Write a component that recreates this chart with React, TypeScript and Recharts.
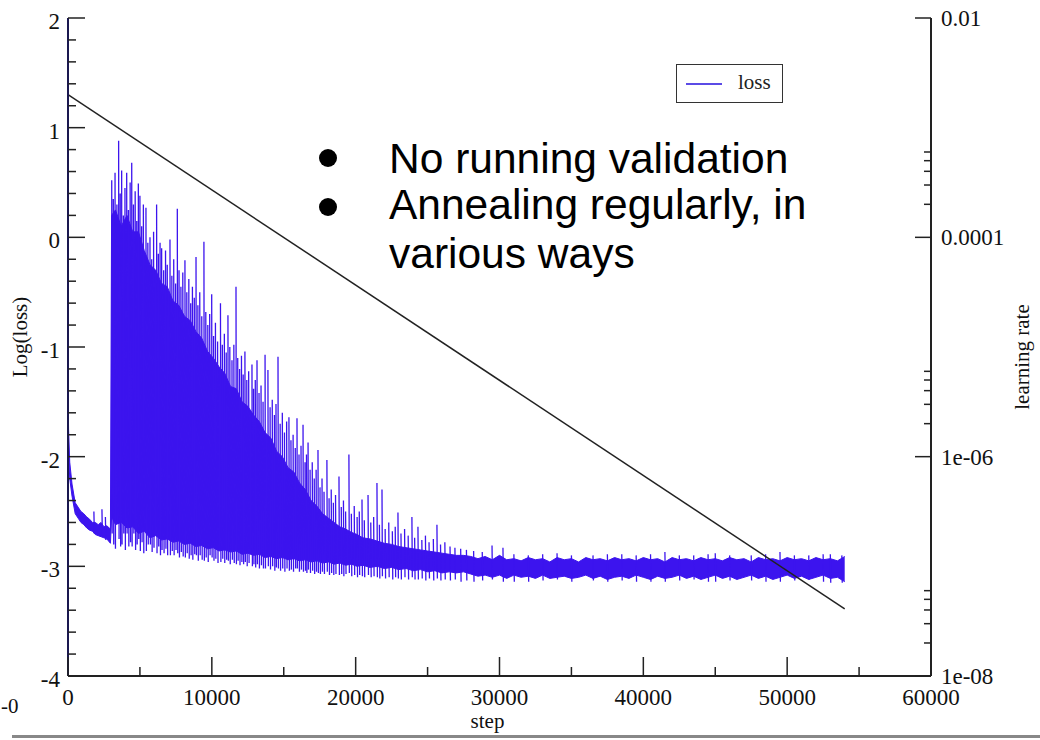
import { ComposedChart, Line, Area, XAxis, YAxis, Label } from 'recharts';

// solid body of the loss trace: step, lower edge, upper edge (log loss)
const bandSteps = [
  0, 40, 120, 280, 500, 700, 900, 1100, 1300, 1500, 1700, 1900, 2100, 2300, 2500, 2700, 2950,
  3030, 3300, 3700, 4100, 4500, 4900, 5300, 5700, 6100, 6500, 6900, 7300, 7700, 8100, 8500, 8900,
  9300, 9700, 10100, 10500, 10900, 11300, 11700, 12100, 12500, 12900, 13300, 13700, 14100, 14500,
  14900, 15300, 15700, 16100, 16500, 16900, 17300, 17700, 18100, 18500, 18900, 19300, 19700, 20100,
  20500, 21000, 21500, 22000, 22500, 23000, 23500, 24000, 24500, 25000, 25500, 26000, 26500, 27000,
  27500, 28000, 28500, 29000, 29500, 30000, 30500, 31000, 31500, 32000, 32500, 33000, 33500, 34000,
  34500, 35000, 35500, 36000, 36500, 37000, 37500, 38000, 38500, 39000, 39500, 40000, 40500, 41000,
  41500, 42000, 42500, 43000, 43500, 44000, 44500, 45000, 45500, 46000, 46500, 47000, 47500, 48000,
  48500, 49000, 49500, 50000, 50500, 51000, 51500, 52000, 52500, 53000, 53500, 54000,
];
const bandLow = [
  -1.5, -1.95, -2.2, -2.36, -2.52, -2.56, -2.6, -2.62, -2.65, -2.67, -2.68, -2.71, -2.72, -2.73, -2.74, -2.75, -2.79,
  -2.55, -2.62, -2.6, -2.65, -2.64, -2.7, -2.68, -2.74, -2.72, -2.76, -2.75, -2.78, -2.77, -2.8, -2.79, -2.82,
  -2.81, -2.84, -2.83, -2.86, -2.85, -2.87, -2.86, -2.89, -2.88, -2.9, -2.89, -2.92, -2.91, -2.93,
  -2.92, -2.94, -2.93, -2.95, -2.94, -2.96, -2.95, -2.97, -2.96, -2.98, -2.97, -2.99, -2.98, -3.0,
  -2.99, -3.01, -3.0, -3.02, -3.01, -3.03, -3.02, -3.04, -3.03, -3.05, -3.04, -3.06, -3.05, -3.06,
  -3.05, -3.07, -3.09, -3.08, -3.1, -3.08, -3.11, -3.08, -3.1, -3.09, -3.11, -3.08, -3.11, -3.1,
  -3.09, -3.11, -3.1, -3.08, -3.11, -3.09, -3.12, -3.1, -3.09, -3.11, -3.08, -3.1, -3.12, -3.09,
  -3.11, -3.1, -3.08, -3.11, -3.09, -3.12, -3.1, -3.08, -3.11, -3.09, -3.12, -3.1, -3.08, -3.11,
  -3.09, -3.12, -3.1, -3.08, -3.11, -3.09, -3.12, -3.1, -3.08, -3.11, -3.1, -3.14,
];
const bandHigh = [
  -1.3, -1.75, -2.05, -2.25, -2.42, -2.46, -2.5, -2.52, -2.55, -2.57, -2.6, -2.6, -2.62, -2.6, -2.64, -2.63, -2.66,
  0.2, 0.25, 0.1, 0.2, 0.05, 0.05, -0.12, -0.25, -0.3, -0.42, -0.45, -0.58, -0.62, -0.72, -0.76, -0.86,
  -0.92, -1.04, -1.1, -1.18, -1.24, -1.36, -1.38, -1.5, -1.54, -1.62, -1.68, -1.78, -1.83, -1.95,
  -2.0, -2.1, -2.14, -2.24, -2.3, -2.4, -2.45, -2.52, -2.56, -2.6, -2.64, -2.66, -2.69, -2.71,
  -2.74, -2.75, -2.77, -2.79, -2.8, -2.82, -2.83, -2.84, -2.85, -2.86, -2.87, -2.88, -2.89, -2.9,
  -2.9, -2.91, -2.93, -2.91, -2.94, -2.9, -2.94, -2.93, -2.95, -2.92, -2.94, -2.93, -2.96, -2.92,
  -2.94, -2.93, -2.96, -2.92, -2.94, -2.93, -2.95, -2.92, -2.94, -2.93, -2.95, -2.92, -2.94, -2.93,
  -2.96, -2.92, -2.94, -2.93, -2.95, -2.92, -2.94, -2.93, -2.95, -2.92, -2.94, -2.93, -2.96, -2.92,
  -2.94, -2.93, -2.95, -2.92, -2.94, -2.93, -2.95, -2.92, -2.94, -2.93, -2.95, -2.91,
];

// individual spikes of the loss trace: step, tip, dip
const spikeSteps = [
  1800, 2360, 2600,
  3040, 3150, 3270, 3400, 3520, 3630, 3730, 3850, 3960, 4080, 4200, 4320, 4430, 4550, 4670, 4780, 4890,
  5000, 5120, 5240, 5420, 5550, 5700, 5820, 5950, 6160, 6280, 6400, 6510, 6650, 6780, 6900, 7090, 7220,
  7350, 7480, 7600, 7720, 7850, 7980, 8130, 8260, 8400, 8530, 8650, 8780, 8900, 9030, 9160, 9300, 9450,
  9580, 9720, 9850, 9990, 10120, 10250, 10400, 10600, 10730, 10870, 11000, 11120, 11250, 11400, 11530,
  11680, 11800, 11930, 12060, 12180, 12300, 12430, 12560, 12790, 12900, 13020, 13140, 13280, 13420,
  13560, 13700, 13900, 14050, 14200, 14350, 14460, 14600, 14750, 14900, 15050, 15200, 15360, 15500,
  15650, 15800, 15920, 16060, 16200, 16340, 16480, 16580, 16690, 16830, 16980, 17120, 17250, 17380,
  17520, 17660, 17800, 18000, 18150, 18300, 18450, 18600, 18840, 19000, 19150, 19300, 19530, 19700,
  19900, 20100, 20250, 20440, 20600, 20860, 21050, 21250, 21480, 21650, 21830, 22050, 22300, 22550,
  22750, 22940, 23150, 23400, 23650, 23910, 24100, 24330, 24600, 24850, 25100, 25400, 25650, 25900,
  26200, 26560, 26900, 27300, 27700, 28200, 28800, 29480, 30240, 31000, 32000, 33000, 34000, 35000,
  36500, 37500, 38500, 39500, 40500, 41500, 42500, 43500, 44500, 45000, 46000, 47500, 48500, 49500,
  50500, 51500, 52500, 53000, 53800,
];
const spikeTips = [
  -2.5, -2.48, -2.55,
  0.52, 0.35, 0.59, 0.3, 0.88, 0.4, 0.61, 0.2, 0.45, 0.59, 0.25, 0.5, 0.68, 0.3, 0.42, 0.15, 0.49,
  0.38, 0.1, 0.3, 0.27, -0.05, 0.0, -0.2, 0.05, 0.3, -0.15, -0.05, -0.1, -0.3, -0.12, -0.25, -0.02, -0.35,
  -0.2, -0.42, 0.26, -0.3, -0.45, -0.32, -0.21, -0.5, -0.38, -0.6, -0.45, -0.55, -0.18, -0.62, -0.5, -0.72, -0.04,
  -0.68, -0.8, -0.7, -0.52, -0.9, -0.78, -0.95, -0.6, -0.98, -0.88, -1.05, -0.71, -1.0, -1.12, -0.98,
  -0.45, -1.1, -1.2, -1.08, -1.25, -1.04, -1.3, -1.22, -1.16, -1.38, -1.3, -1.12, -1.42, -1.35,
  -1.5, -1.07, -1.21, -1.55, -1.48, -1.62, -1.52, -1.09, -1.7, -1.6, -1.78, -1.68, -1.64, -1.85,
  -1.8, -1.92, -1.65, -1.98, -1.9, -1.71, -2.05, -1.98, -1.87, -2.12, -2.05, -2.2, -2.12, -1.94,
  -2.28, -2.2, -2.32, -2.03, -2.38, -2.3, -2.42, -2.35, -2.18, -2.46, -2.4, -2.5, -1.98, -2.52,
  -2.45, -2.55, -2.5, -2.39, -2.58, -2.35, -2.6, -2.55, -2.24, -2.62, -2.3, -2.66, -2.6, -2.68,
  -2.64, -2.51, -2.7, -2.66, -2.72, -2.55, -2.74, -2.64, -2.76, -2.72, -2.78, -2.75, -2.62, -2.8,
  -2.78, -2.82, -2.83, -2.84, -2.85, -2.86, -2.87, -2.81, -2.83, -2.89, -2.9, -2.89, -2.88, -2.9,
  -2.9, -2.89, -2.89, -2.9, -2.89, -2.87, -2.9, -2.9, -2.89, -2.88, -2.9, -2.9, -2.89, -2.87,
  -2.9, -2.9, -2.89, -2.89, -2.9,
];
const spikeDips = [
  -2.7, -2.72, -2.76,
  -2.7, -2.8, -2.84, -2.6, -2.75, -2.82, -2.8, -2.7, -2.85, -2.7, -2.82, -2.78, -2.82, -2.7, -2.85, -2.8, -2.75,
  -2.86, -2.78, -2.88, -2.86, -2.8, -2.8, -2.87, -2.83, -2.88, -2.82, -2.9, -2.85, -2.88, -2.84, -2.9, -2.9, -2.86,
  -2.9, -2.85, -2.88, -2.92, -2.87, -2.91, -2.92, -2.88, -2.93, -2.9, -2.94, -2.89, -2.9, -2.95, -2.9, -2.94, -2.95,
  -2.92, -2.96, -2.9, -2.92, -2.95, -2.93, -2.97, -2.96, -2.93, -2.97, -2.94, -2.95, -2.98, -2.94, -2.97,
  -2.98, -2.95, -2.99, -2.96, -2.98, -2.96, -3.0, -2.97, -3.0, -2.98, -3.01, -2.98, -3.02, -2.99,
  -3.02, -3.02, -3.0, -3.03, -3.0, -3.04, -3.01, -3.02, -3.04, -3.02, -3.05, -3.02, -3.04, -3.03,
  -3.05, -3.02, -3.02, -3.05, -3.03, -3.05, -3.04, -3.06, -3.03, -3.06, -3.04, -3.07, -3.05, -3.06,
  -3.07, -3.05, -3.07, -3.05, -3.08, -3.06, -3.08, -3.07, -3.08, -3.07, -3.09, -3.07, -3.06, -3.09,
  -3.08, -3.1, -3.08, -3.09, -3.1, -3.08, -3.1, -3.09, -3.1, -3.11, -3.09, -3.11, -3.1, -3.12,
  -3.1, -3.11, -3.12, -3.1, -3.12, -3.1, -3.12, -3.12, -3.11, -3.13, -3.11, -3.13, -3.11, -3.13,
  -3.12, -3.13, -3.12, -3.14, -3.13, -3.14, -3.13, -3.12, -3.14, -3.14, -3.14, -3.13, -3.12, -3.14,
  -3.13, -3.14, -3.13, -3.14, -3.14, -3.14, -3.13, -3.12, -3.14, -3.14, -3.13, -3.13, -3.14, -3.14,
  -3.13, -3.12, -3.14, -3.15, -3.15,
];

// learning rate schedule (right axis, log)
const lrSteps = [0, 54000];
const lrValues = [2.0e-3, 4.1e-8];

const stepTicks = [0, 5000, 10000, 15000, 20000, 25000, 30000, 35000, 40000, 45000, 50000, 55000, 60000];
const lossTicks = [
  -4, -3.8, -3.6, -3.4, -3.2, -3, -2.8, -2.6, -2.4, -2.2, -2, -1.8, -1.6, -1.4, -1.2, -1, -0.8, -0.6,
  -0.4, -0.2, 0, 0.2, 0.4, 0.6, 0.8, 1, 1.2, 1.4, 1.6, 1.8, 2,
];
const lrTicks = [
  1e-8, 2e-8, 3e-8, 4e-8, 5e-8, 6e-8, 1e-6, 2e-6, 3e-6, 4e-6, 5e-6, 6e-6,
  1e-4, 2e-4, 3e-4, 4e-4, 5e-4, 6e-4, 1e-2,
];
const lrMajor = [1e-8, 1e-6, 1e-4, 1e-2];
const lrLabels = ['1e-08', '1e-06', '0.0001', '0.01'];

const BLUE = '#3c14ee';
const INK = '#222';
const SERIF = '"Liberation Serif", "DejaVu Serif", serif';

const bandData = bandSteps.map((s, i) => ({ step: s, band: [bandLow[i], bandHigh[i]] }));
// each spike is its own vertical stroke: tip, dip, then a gap
const spikeData = spikeSteps.flatMap((s, i) => [
  { step: s, loss: spikeTips[i] },
  { step: s + 30, loss: spikeDips[i] },
  { step: s + 31, loss: null },
]);
const lrData = lrSteps.map((s, i) => ({ step: s, lr: lrValues[i] }));

const isMajorStep = (v: number) => v % 10000 === 0;

function BottomTick({ x, y, payload }: any) {
  const major = isMajorStep(payload.value);
  return (
    <g>
      <line x1={x} x2={x} y1={y} y2={y - (major ? 19 : 9)} stroke={INK} strokeWidth={1.5} />
      {major && (
        <text x={x} y={y + 29} textAnchor="middle" fontSize={23} fontFamily={SERIF} fill="#111">
          {payload.value}
        </text>
      )}
    </g>
  );
}

function TopTick({ x, y, payload }: any) {
  const major = isMajorStep(payload.value);
  return <line x1={x} x2={x} y1={y} y2={y + (major ? 19 : 9)} stroke={INK} strokeWidth={1.5} />;
}

function LeftTick({ x, y, payload }: any) {
  const v = payload.value;
  const major = Math.abs(v - Math.round(v)) < 1e-6;
  return (
    <g>
      <line x1={x} x2={x + (major ? 17 : 8)} y1={y} y2={y} stroke={INK} strokeWidth={1.5} />
      {major && (
        <text x={x - 8} y={y + 11} textAnchor="end" fontSize={23} fontFamily={SERIF} fill="#111">
          {Math.round(v)}
        </text>
      )}
    </g>
  );
}

function RightTick({ x, y, payload }: any) {
  const idx = lrMajor.findIndex((m) => Math.abs(m - payload.value) / m < 1e-6);
  const major = idx >= 0;
  return (
    <g>
      <line x1={x} x2={x - (major ? 16 : 7)} y1={y} y2={y} stroke={INK} strokeWidth={1.5} />
      {major && (
        <text x={x + 10} y={y + 8} textAnchor="start" fontSize={23} fontFamily={SERIF} fill="#111">
          {lrLabels[idx]}
        </text>
      )}
    </g>
  );
}

export default function App() {
  return (
    <div style={{ position: 'absolute', left: 0, top: 0, width: 1040, height: 740, background: '#fff', overflow: 'hidden' }}>
      <ComposedChart width={1040} height={740} margin={{ top: 18, right: 0, bottom: 0, left: 0 }}>
        <XAxis
          xAxisId="b"
          dataKey="step"
          type="number"
          domain={[0, 60000]}
          ticks={stepTicks}
          interval={0}
          height={64}
          tickSize={0}
          tickMargin={0}
          tickLine={false}
          tick={<BottomTick />}
          axisLine={{ stroke: INK, strokeWidth: 2 }}
          allowDataOverflow
        >
          <Label value="step" position="insideBottom" offset={12} dx={-12} fontSize={21} fontFamily={SERIF} fill="#111" />
        </XAxis>
        <XAxis
          xAxisId="t"
          orientation="top"
          dataKey="step"
          type="number"
          domain={[0, 60000]}
          ticks={stepTicks}
          interval={0}
          height={0}
          tickSize={0}
          tickMargin={0}
          tickLine={false}
          tick={<TopTick />}
          axisLine={{ stroke: INK, strokeWidth: 2 }}
          allowDataOverflow
        />
        <YAxis
          yAxisId="l"
          type="number"
          domain={[-4, 2]}
          ticks={lossTicks}
          interval={0}
          width={68}
          tickSize={0}
          tickMargin={0}
          tickLine={false}
          tick={<LeftTick />}
          axisLine={{ stroke: '#1a1850', strokeWidth: 2 }}
          allowDataOverflow
        />
        <YAxis
          yAxisId="r"
          orientation="right"
          type="number"
          scale="log"
          domain={[1e-8, 1e-2]}
          ticks={lrTicks}
          interval={0}
          width={109}
          tickSize={0}
          tickMargin={0}
          tickLine={false}
          tick={<RightTick />}
          axisLine={{ stroke: INK, strokeWidth: 2 }}
          allowDataOverflow
        />

        <Area
          xAxisId="b"
          yAxisId="l"
          data={bandData}
          dataKey="band"
          type="linear"
          stroke={BLUE}
          strokeWidth={1}
          fill={BLUE}
          fillOpacity={1}
          isAnimationActive={false}
        />
        <Line
          xAxisId="b"
          yAxisId="l"
          data={spikeData}
          dataKey="loss"
          type="linear"
          stroke={BLUE}
          strokeWidth={1.3}
          dot={false}
          connectNulls={false}
          isAnimationActive={false}
        />
        <Line
          xAxisId="t"
          yAxisId="r"
          data={lrData}
          dataKey="lr"
          type="linear"
          stroke={INK}
          strokeWidth={1.5}
          dot={false}
          isAnimationActive={false}
        />
      </ComposedChart>

      {/* legend box */}
      <div style={{ position: 'absolute', left: 676, top: 64, width: 105, height: 37, border: '1.5px solid #333', background: '#fff' }}>
        <div style={{ position: 'absolute', left: 9, top: 18, width: 36, height: 2, background: '#5b4be6' }} />
        <div style={{ position: 'absolute', left: 61, top: 5, fontFamily: SERIF, fontSize: 21, lineHeight: '24px', color: '#222' }}>loss</div>
      </div>

      {/* axis titles and slide annotation */}
      <svg width={1040} height={740} style={{ position: 'absolute', left: 0, top: 0, pointerEvents: 'none' }}>
        <text x={27} y={337} transform="rotate(-90 27 337)" textAnchor="middle" fontFamily={SERIF} fontSize={21} fill="#111">
          Log(loss)
        </text>
        <text x={1029} y={357} transform="rotate(-90 1029 357)" textAnchor="middle" fontFamily={SERIF} fontSize={21} fill="#111">
          learning rate
        </text>
        <g fontFamily='"Liberation Sans", Arial, sans-serif' fontSize={42.5} fill="#000">
          <circle cx={328} cy={158} r={9} />
          <circle cx={328} cy={207} r={9} />
          <text x={389} y={173}>No running validation</text>
          <text x={389} y={219}>Annealing regularly, in</text>
          <text x={389} y={268}>various ways</text>
        </g>
        <text x={1} y={713} fontFamily={SERIF} fontSize={21} fill="#111">-0</text>
      </svg>

      <div style={{ position: 'absolute', left: 12, top: 735, width: 1028, height: 3, background: '#888' }} />
    </div>
  );
}
